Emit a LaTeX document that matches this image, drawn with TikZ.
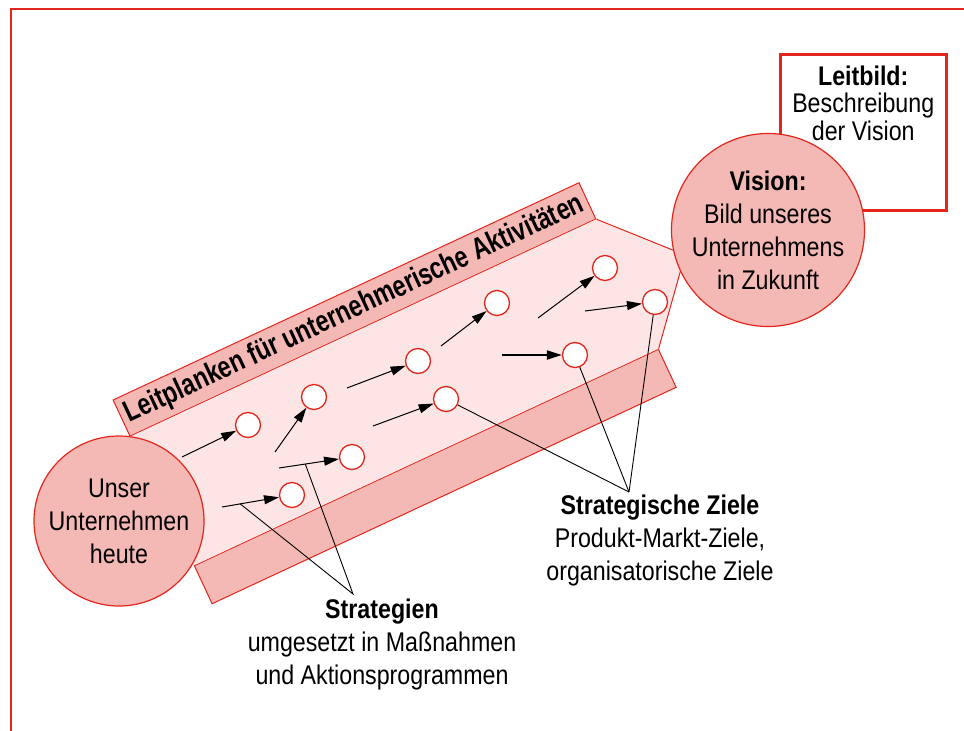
\documentclass[tikz,border=0pt]{standalone}
\usepackage{fontspec}
\setmainfont{Liberation Sans}[FakeStretch=0.86]
\newfontfamily\narrowfont{Liberation Sans}[FakeStretch=0.78]
\usepackage{tikz}
\usetikzlibrary{arrows.meta, positioning, calc}
\definecolor{planred}{RGB}{227,38,28}
\definecolor{planpink}{RGB}{245,185,181}
\definecolor{planlight}{RGB}{252,229,228}

\begin{document}
\begin{tikzpicture}[x=1pt, y=-1pt,
    txt/.style={font=\fontsize{27}{33}\selectfont, align=center},
    bigc/.style={txt, circle, draw=planred, line width=1.2pt, fill=planpink, minimum size=170pt, inner sep=0pt},
    goal/.style={circle, draw=planred, line width=1.3pt, fill=white, minimum size=25pt, inner sep=0pt},
    strip/.style={draw=planred, line width=1pt, fill=planpink, inner sep=0pt, rotate=25},
    act/.style={-{Triangle[length=15pt, width=9pt]}, line width=1pt},
    ptr/.style={line width=0.9pt}]
    \useasboundingbox (0,0) rectangle (964,731);
    \fill[white] (0,0) rectangle (964,731);
    \draw[planred, line width=2.5pt] (11,731) -- (11,9) -- (964,9);

    \node[draw=planred, line width=2.5pt, fill=white, minimum width=166pt, minimum height=156pt, anchor=north west] (box) at (779,53) {};
    \node[font=\fontsize{27}{27.5}\selectfont, align=center, below=9pt of box.north] (leitbild) {\textbf{Leitbild:}\\Beschreibung\\der Vision};

    \node[strip, minimum width=514pt, minimum height=40pt, font=\narrowfont\fontsize{30}{30}\selectfont\bfseries] (leit) at (354.5,309.5) {Leitplanken für unternehmerische Aktivitäten};
    \node[strip, minimum width=512pt, minimum height=42pt] (bottom) at (435.25,476.5) {};
    \coordinate (tip) at (685,255);
    \fill[planlight] (leit.south west) -- (leit.south east) -- (tip) -- (bottom.north east) -- (bottom.north west) -- cycle;
    \draw[planred, line width=1pt] (leit.south east) -- (tip) -- (bottom.north east);

    \node[bigc] (vision) at (768,230) {\textbf{Vision:}\\Bild unseres\\Unternehmens\\in Zukunft};
    \node[bigc] (heute) at (119,521) {Unser\\Unternehmen\\heute};

    \foreach \n/\x/\y in {1/605/268, 2/655/302, 3/497/303, 4/575/355, 5/418/361,
                          6/446/399, 7/314/397, 8/248/425, 9/352/457, 10/292/495}
        \node[goal] (c\n) at (\x,\y) {};

    \foreach \n/\x/\y in {1/538/318, 2/585/311, 3/441/346, 5/347/388, 6/373/426,
                          7/275/452, 8/182/457, 9/279/468, 10/222/507}
        \draw[act] (\x,\y) coordinate (a\n) -- (c\n);
    \draw[act, line width=2pt] (502,355) coordinate (a4) -- (c4);

    \node[txt] (strat) at (382,645) {\textbf{Strategien}\\umgesetzt in Maßnahmen\\und Aktionsprogrammen};
    \node[txt] (ziele) at (660,541) {\textbf{Strategische Ziele}\\Produkt-Markt-Ziele,\\organisatorische Ziele};
    \coordinate (ts) at (353,594);
    \coordinate (tz) at (629,492);

    \draw[ptr] ($(a10)!0.26!(c10)$) -- (ts) -- ($(a9)!0.36!(c9)$);
    \foreach \n in {6,4,2}
        \draw[ptr] (tz) -- (c\n);
\end{tikzpicture}
\end{document}
